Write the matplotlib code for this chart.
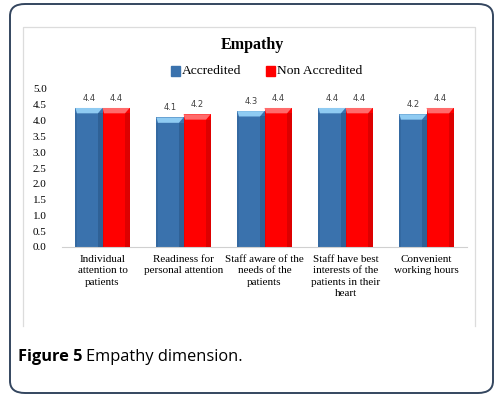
import matplotlib
matplotlib.use('Agg')
import matplotlib.pyplot as plt
from matplotlib.patches import FancyBboxPatch, Rectangle, Polygon
import numpy as np

# chart data
categories = ["Individual\nattention to\npatients",
              "Readiness for\npersonal attention",
              "Staff aware of the\nneeds of the\npatients",
              "Staff have best\ninterests of the\npatients in their\nheart",
              "Convenient\nworking hours"]
accredited = [4.4, 4.1, 4.3, 4.4, 4.2]
non_accredited = [4.4, 4.2, 4.4, 4.4, 4.4]
yticks = [0.0, 0.5, 1.0, 1.5, 2.0, 2.5, 3.0, 3.5, 4.0, 4.5, 5.0]

W, H = 503, 398
fig = plt.figure(figsize=(W / 100, H / 100), dpi=100)

# outer rounded frame
fig.patches.append(FancyBboxPatch((10 / W, 5 / H), 483 / W, 389 / H,
                                  boxstyle="round,pad=0,rounding_size=0.03",
                                  transform=fig.transFigure, fill=False,
                                  edgecolor="#34465f", linewidth=1.4))
# inner light chart frame
fig.lines.append(plt.Line2D([23 / W, 23 / W, 475 / W, 475 / W],
                            [1 - 326 / H, 1 - 27 / H, 1 - 27 / H, 1 - 326 / H],
                            transform=fig.transFigure, color="#dcdcdc", lw=0.9))

ax = fig.add_axes([62 / W, 1 - 247 / H, 405 / W, 158 / H])
x = np.arange(len(categories))
bw = 0.335


def draw3d(xs, vals, main, side, top):
    bars = ax.bar(xs, vals, bw, color=main, linewidth=0, zorder=2)
    for b in bars:
        x0 = b.get_x()
        w = b.get_width()
        h = b.get_height()
        sw = w * 0.17
        cap = 0.17
        ax.add_patch(Rectangle((x0 + w - sw, 0), sw, h - cap, color=side, lw=0, zorder=3))
        ax.add_patch(Rectangle((x0, 0), sw * 0.35, h - cap, color=side, lw=0, zorder=3, alpha=0.5))
        ax.add_patch(Polygon([(x0, h), (x0 + w, h), (x0 + w - sw, h - cap), (x0 + sw * 0.35, h - cap)],
                             closed=True, color=top, lw=0, zorder=3))
    return bars


draw3d(x - bw / 2, accredited, "#3a72ad", "#2f6196", "#8fcbf2")
draw3d(x + bw / 2, non_accredited, "#ff0000", "#dd0000", "#ff6b6b")

for i in range(len(categories)):
    ax.text(x[i] - bw / 2, accredited[i] + 0.17, f"{accredited[i]:.1f}", ha="center", va="bottom",
            fontsize=6, color="#404040", family="DejaVu Sans")
    ax.text(x[i] + bw / 2, non_accredited[i] + 0.17, f"{non_accredited[i]:.1f}", ha="center", va="bottom",
            fontsize=6, color="#404040", family="DejaVu Sans")

ax.set_xlim(-0.5, len(categories) - 0.5)
ax.set_ylim(0, 5.0)
ax.set_yticks(yticks)
ax.set_yticklabels([f"{t:.1f}" for t in yticks], family="Liberation Serif", fontsize=8)
ax.set_xticks(x)
ax.set_xticklabels(categories, family="Liberation Serif", fontsize=8, linespacing=1.3, va="top")
ax.tick_params(axis="y", length=0, pad=11)
ax.tick_params(axis="x", length=0, pad=6)
for s in ["left", "right", "top"]:
    ax.spines[s].set_visible(False)
ax.spines["bottom"].set_color("#d0d0d0")
ax.patch.set_alpha(0)

fig.text(252 / W, 1 - 45 / H, "Empathy", ha="center", va="center",
         family="Liberation Serif", fontweight="bold", fontsize=11.5)

# legend
fig.patches.append(Rectangle((171 / W, 1 - 75.5 / H), 9 / W, 9 / H, transform=fig.transFigure,
                             color="#3a72ad"))
fig.text(182 / W, 1 - 71 / H, "Accredited", va="center", family="Liberation Serif", fontsize=9.7)
fig.patches.append(Rectangle((266 / W, 1 - 75.5 / H), 9 / W, 9 / H, transform=fig.transFigure,
                             color="#ff0000"))
fig.text(277 / W, 1 - 71 / H, "Non Accredited", va="center", family="Liberation Serif", fontsize=9.7)

# caption
fig.text(18 / W, 1 - 357 / H, "Figure 5", va="center", family="Open Sans", fontweight="bold", fontsize=11.8)
fig.text(86 / W, 1 - 357 / H, "Empathy dimension.", va="center", family="Open Sans", fontsize=11.8)

fig.savefig("out.png", dpi=100)
